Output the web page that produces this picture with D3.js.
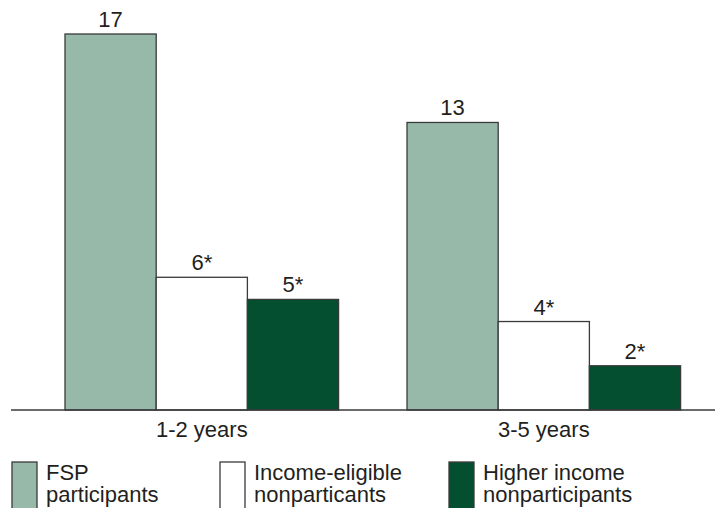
<!DOCTYPE html>
<html>
<head>
<meta charset="utf-8">
<script src="https://cdn.jsdelivr.net/npm/d3@7"></script>
<style>
  html, body { margin: 0; padding: 0; background: #fff; }
  svg { display: block; }
  text { font-family: "Liberation Sans", Arial, Helvetica, sans-serif; fill: #231f20; }
</style>
</head>
<body>
<svg id="chart" width="719" height="508"></svg>
<script>
const categories = ["1-2 years", "3-5 years"];
const seriesNames = ["FSP participants", "Income-eligible nonparticants", "Higher income nonparticipants"];
const legendLines = [["FSP", "participants"], ["Income-eligible", "nonparticants"], ["Higher income", "nonparticipants"]];
const fspValues = [17, 13];
const eligibleValues = [6, 4];
const higherValues = [5, 2];
const valueLabels = [["17", "13"], ["6*", "4*"], ["5*", "2*"]];
const colors = ["#97b9aa", "#ffffff", "#034f2f"];

const series = [fspValues, eligibleValues, higherValues];
const svg = d3.select("#chart");
const FS = 22;

const x0 = d3.scaleBand().domain(categories).range([30.8, 714.8]).paddingInner(0.2).paddingOuter(0.1);
const x1 = d3.scaleBand().domain(d3.range(seriesNames.length)).range([0, x0.bandwidth()]);
const y = d3.scaleLinear().domain([0, 17]).range([410, 34]);

const groups = svg.selectAll("g.grp").data(categories).join("g")
  .attr("class", "grp")
  .attr("transform", d => `translate(${x0(d)},0)`);

groups.each(function(cat, ci) {
  const g = d3.select(this);
  series.forEach((vals, si) => {
    g.append("rect")
      .attr("x", x1(si))
      .attr("y", y(vals[ci]))
      .attr("width", x1.bandwidth())
      .attr("height", y(0) - y(vals[ci]))
      .attr("fill", colors[si])
      .attr("stroke", "#3a3a3a")
      .attr("stroke-width", 1.3);
    g.append("text")
      .attr("x", x1(si) + x1.bandwidth() / 2)
      .attr("y", y(vals[ci]) - 7)
      .attr("text-anchor", "middle")
      .attr("font-size", FS)
      .text(valueLabels[si][ci]);
  });
  g.append("text")
    .attr("x", x0.bandwidth() / 2)
    .attr("y", 437)
    .attr("text-anchor", "middle")
    .attr("font-size", FS)
    .text(cat);
});

// baseline
svg.append("line")
  .attr("x1", 11).attr("x2", 715)
  .attr("y1", y(0)).attr("y2", y(0))
  .attr("stroke", "#3a3a3a").attr("stroke-width", 1.6);

// legend
const legendX = [12, 220, 449];
const legend = svg.selectAll("g.leg").data(seriesNames).join("g")
  .attr("class", "leg")
  .attr("transform", (d, i) => `translate(${legendX[i]},462)`);
legend.append("rect")
  .attr("x", 0).attr("y", 0)
  .attr("width", 25).attr("height", 50)
  .attr("fill", (d, i) => colors[i])
  .attr("stroke", "#3a3a3a").attr("stroke-width", 1.3);
legend.each(function(d, i) {
  const t = d3.select(this).append("text")
    .attr("x", 34)
    .attr("y", 18)
    .attr("font-size", FS);
  legendLines[i].forEach((ln, k) => {
    t.append("tspan").attr("x", 34).attr("dy", k === 0 ? 0 : 22).text(ln);
  });
});
</script>
</body>
</html>
